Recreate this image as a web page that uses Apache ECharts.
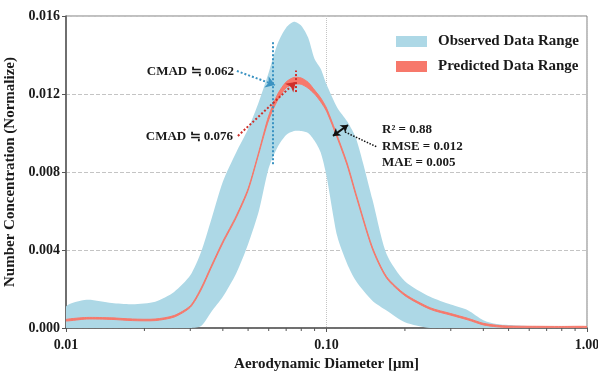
<!DOCTYPE html>
<html>
<head>
<meta charset="utf-8">
<script src="https://cdn.jsdelivr.net/npm/echarts@6/dist/echarts.min.js"></script>
<style>
  html, body { margin: 0; padding: 0; background: #fff; }
  #chart { width: 598px; height: 372px; }
</style>
</head>
<body>
<div id="chart"></div>
<script>
// aerodynamic diameter (um)
const diam = [0.010, 0.012, 0.015, 0.018, 0.022, 0.026, 0.030, 0.033, 0.036, 0.040,
  0.045, 0.050, 0.055, 0.060, 0.065, 0.070, 0.075, 0.080, 0.085, 0.090,
  0.095, 0.100, 0.110, 0.120, 0.130, 0.150, 0.170, 0.200, 0.250, 0.300,
  0.350, 0.400, 0.450, 0.500, 0.600, 0.800, 1.000]

// observed range
const obsHigh = [0.00110, 0.00145, 0.00128, 0.00122, 0.00135, 0.00185, 0.0027, 0.0039, 0.0055, 0.0075,
  0.0090, 0.0102, 0.0116, 0.0131, 0.0146, 0.0154, 0.0157, 0.0155, 0.0149, 0.0138,
  0.0133, 0.0125, 0.0113, 0.0106, 0.0097, 0.0066, 0.0038, 0.0024, 0.0016, 0.0012,
  0.0009, 0.0004, 0.0002, 0.00015, 0.0001, 0.00006, 0.00004]
const obsLow = [0, 0, 0, 0, 0, 0, 0, 0.0001, 0.0008, 0.0016,
  0.0028, 0.0043, 0.0060, 0.0082, 0.0093, 0.0099, 0.0101, 0.0101, 0.0100, 0.0096,
  0.0090, 0.0078, 0.0047, 0.0033, 0.0024, 0.0014, 0.0009, 0.0003, 0, 0,
  0, 0, 0, 0, 0, 0, 0]

// predicted range
const predHigh = [0.00044, 0.00054, 0.00052, 0.00046, 0.00046, 0.00064, 0.00114, 0.00205, 0.00315, 0.00445,
  0.00575, 0.00715, 0.00905, 0.01088, 0.0120, 0.01262, 0.01285, 0.01282, 0.0126, 0.0122,
  0.0118, 0.01128, 0.00986, 0.00846, 0.00686, 0.00415, 0.00264, 0.00174, 0.00104, 0.00074,
  0.00049, 0.00024, 0.00014, 0.0001, 0.00009, 0.00008, 0.00008]
const predLow = [0.00036, 0.00046, 0.00044, 0.00038, 0.00038, 0.00056, 0.00106, 0.00195, 0.00305, 0.00435,
  0.00565, 0.00705, 0.00895, 0.01068, 0.0117, 0.01232, 0.01250, 0.01250, 0.0123, 0.0120,
  0.0116, 0.01112, 0.00974, 0.00834, 0.00674, 0.00405, 0.00256, 0.00166, 0.00096, 0.00066,
  0.00041, 0.00016, 0.00006, 0.00002, 0.00001, 0.00001, 0.00001]

// minor ticks on the log axis
const minorTicks = [0.02, 0.03, 0.04, 0.05, 0.06, 0.07, 0.08, 0.09,
  0.2, 0.3, 0.4, 0.5, 0.6, 0.7, 0.8, 0.9]

const cmadObs = 0.062
const cmadPred = 0.076
const statLines = ['R² = 0.88', 'RMSE = 0.012', 'MAE = 0.005']

const FONT = '"Liberation Serif", "Times New Roman", serif'
const BLUE = '#add8e6'
const SALMON = '#f7786b'
const INK = '#1a1a1a'

const chart = echarts.init(document.getElementById('chart'))

// band polygon: upper edge left->right, lower edge right->left
function bandRenderer(hi, lo, fill, strokeWidth) {
  return (params, api) => {
    const pts = []
    diam.forEach((d, i) => pts.push(api.coord([d, hi[i]])))
    for (let i = diam.length - 1; i >= 0; i--) pts.push(api.coord([diam[i], lo[i]]))
    const cs = params.coordSys
    return {
      type: 'polygon',
      shape: { points: pts, smooth: 0.25 },
      style: { fill: fill, stroke: strokeWidth ? fill : null, lineWidth: strokeWidth || 0 },
      clipPath: { type: 'rect', shape: { x: cs.x, y: cs.y, width: cs.width, height: cs.height } }
    }
  }
}

const option = {
  backgroundColor: '#fff',
  animation: false,
  grid: {
    left: 66, right: 11, top: 16, bottom: 44,
    outerBoundsMode: 'none',
    show: true, borderColor: '#808080', borderWidth: 1
  },
  legend: {
    data: ['Observed Data Range', 'Predicted Data Range'],
    orient: 'vertical',
    left: 391, top: 29,
    itemWidth: 31, itemHeight: 11, itemGap: 10,
    icon: 'rect',
    textStyle: { fontFamily: FONT, fontWeight: 'bold', fontSize: 15, color: INK, padding: [0, 0, 0, 6] }
  },
  xAxis: {
    type: 'log', logBase: 10, min: 0.01, max: 1,
    name: 'Aerodynamic Diameter [μm]',
    nameLocation: 'middle', nameGap: 27,
    nameTextStyle: { fontFamily: FONT, fontWeight: 'bold', fontSize: 15, color: INK },
    axisLine: { lineStyle: { color: '#555', width: 1.5 } },
    axisTick: { show: true, length: 4, lineStyle: { color: '#555' } },
    axisLabel: {
      fontFamily: FONT, fontWeight: 'bold', fontSize: 14, color: INK, margin: 10,
      formatter: v => Number(v).toFixed(2)
    },
    splitLine: { show: true, lineStyle: { color: '#c4c4c4', type: 'dotted', width: 1 } }
  },
  yAxis: {
    type: 'value', min: 0, max: 0.016, interval: 0.004,
    name: 'Number Concentration (Normalize)',
    nameLocation: 'middle', nameGap: 45,
    nameTextStyle: { fontFamily: FONT, fontWeight: 'bold', fontSize: 15, color: INK },
    axisLine: { show: true, lineStyle: { color: '#555', width: 1.5 } },
    axisTick: { show: true, length: 4, lineStyle: { color: '#555' } },
    axisLabel: {
      fontFamily: FONT, fontWeight: 'bold', fontSize: 14, color: INK, margin: 6,
      formatter: v => Number(v).toFixed(3)
    },
    splitLine: { show: true, lineStyle: { color: '#c4c4c4', type: 'dashed', width: 1 } }
  },
  series: [
    {
      name: 'Observed Data Range', type: 'custom', data: [[diam[0], obsHigh[0]]],
      itemStyle: { color: BLUE }, silent: true, z: 2,
      renderItem: bandRenderer(obsHigh, obsLow, BLUE, 0)
    },
    {
      name: 'Predicted Data Range', type: 'custom', data: [[diam[0], predHigh[0]]],
      itemStyle: { color: SALMON }, silent: true, z: 3,
      renderItem: bandRenderer(predHigh, predLow, SALMON, 1)
    },
    {
      name: 'minorTicks', type: 'custom', data: minorTicks.map(v => [v, 0]),
      silent: true, z: 4,
      renderItem: (params, api) => {
        const p = api.coord([api.value(0), 0])
        return {
          type: 'line',
          shape: { x1: p[0], y1: p[1], x2: p[0], y2: p[1] + 3 },
          style: { stroke: '#555', lineWidth: 1 }
        }
      },
      markLine: {
        silent: true, animation: false,
        symbol: ['none', 'none'],
        label: { show: false },
        data: [
          // CMAD observed vertical
          [{ coord: [cmadObs, 0.0084], lineStyle: { color: '#3b93c2', type: 'dotted', width: 2 } },
           { coord: [cmadObs, 0.0147] }],
          // CMAD predicted vertical
          [{ coord: [cmadPred, 0.0121], lineStyle: { color: '#cf2f2a', type: 'dotted', width: 2 } },
           { coord: [cmadPred, 0.0132] }],
          // arrow to observed CMAD
          [{ coord: [0.0453, 0.01318], lineStyle: { color: '#3b93c2', type: 'dotted', width: 2 } },
           { coord: [0.0634, 0.01246], symbol: 'arrow', symbolSize: 9 }],
          // arrow to predicted CMAD
          [{ coord: [0.0457, 0.00985], lineStyle: { color: '#cf2f2a', type: 'dotted', width: 2 } },
           { coord: [0.0762, 0.01262], symbol: 'arrow', symbolSize: 9 }],
          // band width arrow
          [{ coord: [0.1059, 0.00985], symbol: 'arrow', symbolSize: 7, lineStyle: { color: '#111', type: 'solid', width: 2 } },
           { coord: [0.1209, 0.01041], symbol: 'arrow', symbolSize: 7 }],
          // leader to stats text
          [{ coord: [0.1178, 0.01005], lineStyle: { color: '#111', type: 'dotted', width: 1.5 } },
           { coord: [0.1563, 0.00928] }]
        ]
      }
    }
  ],
  graphic: [
    {
      type: 'text', x: 234, y: 72, silent: true, z: 10,
      style: { text: 'CMAD ≒ ' + cmadObs.toFixed(3), align: 'right', verticalAlign: 'middle',
        fontSize: 13, fontWeight: 'bold', fontFamily: FONT, fill: INK }
    },
    {
      type: 'text', x: 233, y: 137, silent: true, z: 10,
      style: { text: 'CMAD ≒ ' + cmadPred.toFixed(3), align: 'right', verticalAlign: 'middle',
        fontSize: 13, fontWeight: 'bold', fontFamily: FONT, fill: INK }
    }
  ].concat(statLines.map((t, i) => ({
    type: 'text', x: 382, y: 130 + i * 16.5, silent: true, z: 10,
    style: { text: t, align: 'left', verticalAlign: 'middle',
      fontSize: 13, fontWeight: 'bold', fontFamily: FONT, fill: INK }
  })))
}

chart.setOption(option)
</script>
</body>
</html>
